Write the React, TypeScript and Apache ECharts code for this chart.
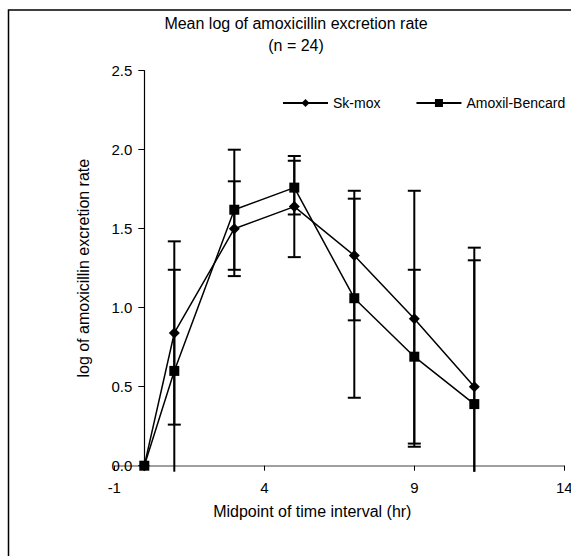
import React, { useEffect, useRef } from "react";
import * as echarts from "echarts";

const xValues = [0, 1, 3, 5, 7, 9, 11];
const skMox = [0, 0.84, 1.5, 1.64, 1.33, 0.93, 0.5];
const skMoxErr = [0, 0.58, 0.3, 0.32, 0.41, 0.81, 0.88];
const amoxil = [0, 0.6, 1.62, 1.76, 1.06, 0.69, 0.39];
const amoxilErr = [0, 0.64, 0.38, 0.17, 0.63, 0.55, 0.91];
const xTicks = [-1, 4, 9, 14];
const seriesNames = ["Sk-mox", "Amoxil-Bencard"];
const titleText = "Mean log of amoxicillin excretion rate";
const subTitleText = "(n = 24)";
const xName = "Midpoint of time interval (hr)";
const yName = "log of amoxicillin excretion rate";

const FONT = "'Liberation Sans', Arial, sans-serif";

function errData(means: number[], errs: number[]) {
  return xValues
    .map((x, i) => [x, means[i] - errs[i], means[i] + errs[i], errs[i]])
    .filter((d) => d[3] > 0);
}

function renderErr(params: any, api: any) {
  const x = api.value(0);
  const lo = api.value(1);
  const hi = api.value(2);
  const top = api.coord([x, hi]);
  const zeroY = api.coord([x, 0])[1];
  const clipped = lo < 0;
  const by = clipped ? zeroY + 6 : api.coord([x, lo])[1];
  const half = 6.5;
  const style = { stroke: "#000", lineWidth: 2 };
  const children: any[] = [
    { type: "line", shape: { x1: top[0], y1: top[1], x2: top[0], y2: by }, style },
    { type: "line", shape: { x1: top[0] - half, y1: top[1], x2: top[0] + half, y2: top[1] }, style },
  ];
  if (!clipped) {
    children.push({ type: "line", shape: { x1: top[0] - half, y1: by, x2: top[0] + half, y2: by }, style });
  }
  return { type: "group", children };
}

export default function App() {
  const ref = useRef<HTMLDivElement>(null);
  useEffect(() => {
    if (!ref.current) return;
    const chart = echarts.init(ref.current, null, { renderer: "svg" });
    const option: any = {
      animation: false,
      backgroundColor: "#fff",
      textStyle: { fontFamily: FONT, color: "#000" },
      title: [
        {
          text: titleText,
          left: 296,
          top: 15,
          textAlign: "center",
          padding: 0,
          textStyle: { fontSize: 16, fontWeight: "normal", color: "#000", fontFamily: FONT },
        },
        {
          text: subTitleText,
          left: 296,
          top: 37,
          textAlign: "center",
          padding: 0,
          textStyle: { fontSize: 16, fontWeight: "normal", color: "#000", fontFamily: FONT },
        },
      ],
      legend: {
        data: seriesNames,
        left: 282,
        top: 96,
        padding: 0,
        itemWidth: 45,
        itemHeight: 10,
        itemGap: 35,
        textStyle: { fontSize: 14, color: "#000", fontFamily: FONT },
      },
      grid: {
        left: 114.3,
        right: 6.7,
        top: 70.7,
        bottom: 90.3,
        containLabel: false,
        outerBoundsMode: "none",
      },
      xAxis: {
        type: "value",
        min: -1,
        max: 14,
        name: xName,
        nameLocation: "middle",
        nameGap: 38,
        nameMoveOverlap: false,
        nameTextStyle: { fontSize: 16, color: "#000", fontFamily: FONT, padding: [0, 54, 0, 0] },
        axisLine: { onZero: true, lineStyle: { color: "#808080", width: 1.5 } },
        axisTick: { customValues: xTicks, length: 5, lineStyle: { color: "#000", width: 1 } },
        axisLabel: { customValues: xTicks, fontSize: 15, color: "#000", margin: 14, fontFamily: FONT },
        splitLine: { show: false },
      },
      yAxis: {
        type: "value",
        min: 0,
        max: 2.5,
        interval: 0.5,
        name: yName,
        nameLocation: "middle",
        nameGap: 23,
        nameMoveOverlap: false,
        nameTextStyle: { fontSize: 16, color: "#000", fontFamily: FONT },
        axisLine: { show: true, onZero: true, lineStyle: { color: "#000", width: 1.2 } },
        axisTick: { show: true, length: 6, lineStyle: { color: "#000", width: 1 } },
        axisLabel: {
          fontSize: 15,
          color: "#000",
          margin: -18,
          fontFamily: FONT,
          formatter: (v: number) => v.toFixed(1),
        },
        splitLine: { show: false },
      },
      series: [
        {
          name: seriesNames[0] + " error",
          type: "custom",
          renderItem: renderErr,
          encode: { x: 0, y: [1, 2] },
          data: errData(skMox, skMoxErr),
          z: 1,
          silent: true,
        },
        {
          name: seriesNames[1] + " error",
          type: "custom",
          renderItem: renderErr,
          encode: { x: 0, y: [1, 2] },
          data: errData(amoxil, amoxilErr),
          z: 1,
          silent: true,
        },
        {
          name: seriesNames[0],
          type: "line",
          data: xValues.map((x, i) => [x, skMox[i]]),
          symbol: "diamond",
          symbolSize: 11,
          showAllSymbol: true,
          lineStyle: { color: "#000", width: 1.5 },
          itemStyle: { color: "#000" },
          z: 3,
        },
        {
          name: seriesNames[1],
          type: "line",
          data: xValues.map((x, i) => [x, amoxil[i]]),
          symbol: "rect",
          symbolSize: 10,
          showAllSymbol: true,
          lineStyle: { color: "#000", width: 1.5 },
          itemStyle: { color: "#000" },
          z: 3,
        },
      ],
      graphic: [
        {
          type: "rect",
          shape: { x: 8.5, y: 10, width: 700, height: 700 },
          style: { fill: "none", stroke: "#000", lineWidth: 1.5 },
          silent: true,
          z: 100,
        },
      ],
    };
    chart.setOption(option);
    return () => chart.dispose();
  }, []);
  return (
    <div
      ref={ref}
      style={{ position: "absolute", left: 0, top: 0, width: 571, height: 556 }}
    />
  );
}
